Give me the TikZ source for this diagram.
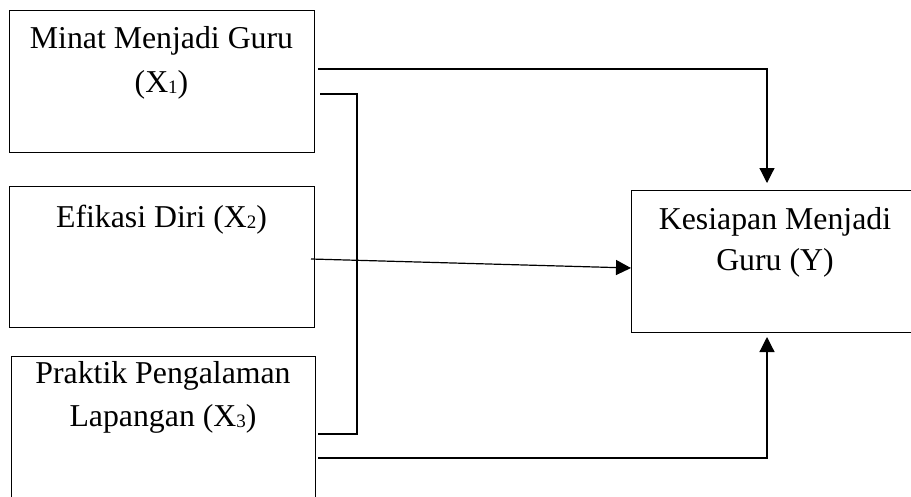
\documentclass[tikz,border=0pt]{standalone}
\usepackage{fontspec}
\setmainfont{Liberation Serif}
\usetikzlibrary{arrows.meta}
% small lowered index digit, as in X1, X2, X3
\newcommand{\lowidx}[1]{\raisebox{-1pt}{\fontsize{19}{19}\selectfont #1}}
\begin{document}
\begin{tikzpicture}[x=1pt,y=-1pt,
  box/.style={draw,line width=1.2pt,rectangle,inner sep=0pt,anchor=north west},
  lbl/.style={anchor=base,inner sep=0pt,font=\fontsize{31.8}{43}\selectfont},
  link/.style={line width=1.2pt},
  tip/.style={-{Triangle[length=15pt,width=15pt]}}]
\useasboundingbox (0,0) rectangle (911,496);
\fill[white] (0,0) rectangle (911,496);

% variable boxes
\node[box,minimum width=305pt,minimum height=142pt] (b1) at (9,10) {};
\node[box,minimum width=305pt,minimum height=141pt] (b2) at (9,186) {};
\node[box,minimum width=304pt,minimum height=170pt] (b3) at (11,356) {};
\node[box,minimum width=282pt,minimum height=142pt] (by) at (631,190) {};

% box texts
\node[lbl] (t1a) at (161.5,48) {Minat Menjadi Guru};
\node[lbl] (t1b) at (161.5,92) {(X\lowidx{1})};
\node[lbl] (t2) at (161.5,227) {Efikasi Diri (X\lowidx{2})};
\node[lbl] (t3a) at (163,383) {Praktik Pengalaman};
\node[lbl] (t3b) at (163,426) {Lapangan (X\lowidx{3})};
\node[lbl] (tya) at (775,229) {Kesiapan Menjadi};
\node[lbl] (tyb) at (775,270) {Guru (Y)};

% connector end points
\coordinate (s1) at (318,69);
\coordinate (c1) at (767,69);
\coordinate (e1) at (767,183);
\coordinate (ba) at (320,94);
\coordinate (bb) at (357,94);
\coordinate (bc) at (357,434);
\coordinate (bd) at (318,434);
\coordinate (s2) at (311,259);
\coordinate (e2) at (631,268);
\coordinate (s3) at (318,458);
\coordinate (c3) at (767,458);
\coordinate (e3) at (767,337);

% connectors
\draw[link,tip] (s1) -- (c1) -- (e1);
\draw[link] (ba) -- (bb) -- (bc) -- (bd);
\draw[link,tip] (s2) -- (e2);
\draw[link,tip] (s3) -- (c3) -- (e3);
\end{tikzpicture}
\end{document}
